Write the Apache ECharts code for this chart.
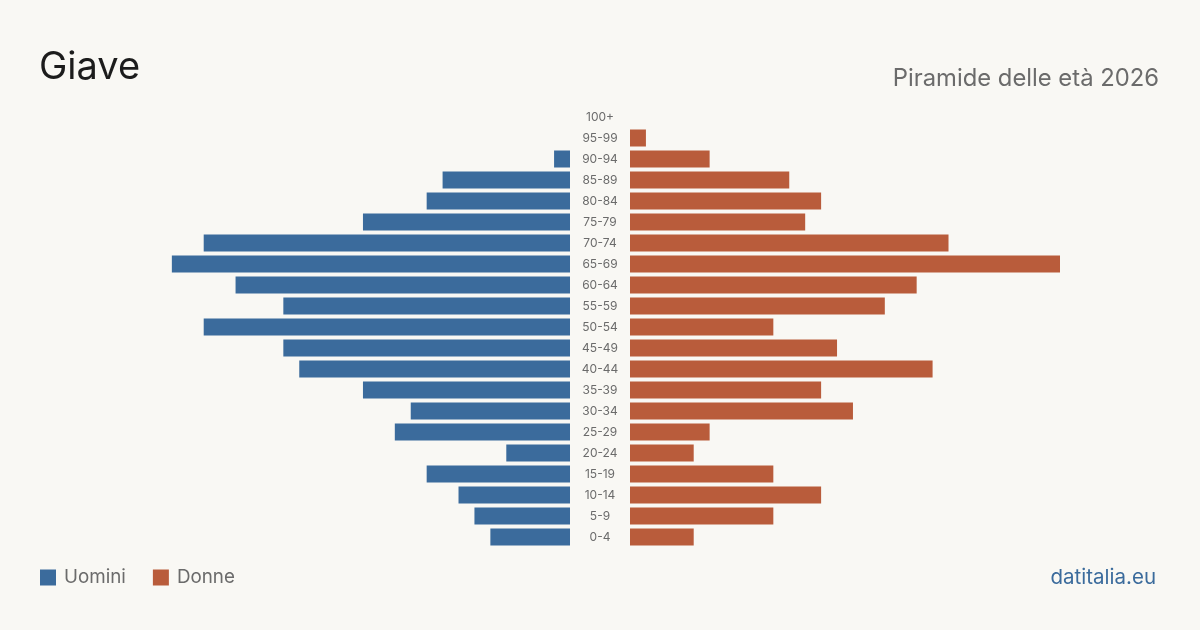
<!DOCTYPE html>
<html>
<head>
<meta charset="utf-8">
<script src="https://cdn.jsdelivr.net/npm/echarts@6/dist/echarts.min.js"></script>
<style>
  html, body { margin: 0; padding: 0; background: #f9f8f4; }
  #chart { width: 1200px; height: 630px; }
</style>
</head>
<body>
<div id="chart"></div>
<script>
// age classes, top to bottom
const ageGroups = ['100+', '95-99', '90-94', '85-89', '80-84', '75-79', '70-74', '65-69', '60-64', '55-59',
  '50-54', '45-49', '40-44', '35-39', '30-34', '25-29', '20-24', '15-19', '10-14', '5-9', '0-4'];
const men   = [0, 0, 1, 8, 9, 13, 23, 25, 21, 18, 23, 18, 17, 13, 10, 11, 4, 9, 7, 6, 5];
const women = [0, 1, 5, 10, 12, 11, 20, 27, 18, 16, 9, 13, 19, 12, 14, 5, 4, 9, 12, 9, 4];
const axisMax = 27;

const BLUE = '#3b6b9c';
const ORANGE = '#b95c3b';
const font = 'Inter, "Liberation Sans", sans-serif';

const chart = echarts.init(document.getElementById('chart'));

chart.setOption({
  backgroundColor: '#f9f8f4',
  animation: false,
  textStyle: { fontFamily: font },
  title: [
    { text: 'Giave', left: 34, top: 44, textStyle: { fontSize: 38, fontWeight: 'normal', color: '#1c1c1c', fontFamily: font } },
    { text: 'Piramide delle età 2026', right: 36, top: 62, textStyle: { fontSize: 23.8, fontWeight: 'normal', color: '#6b6b6b', fontFamily: font } },
    { text: 'datitalia.eu', right: 39, top: 562, textStyle: { fontSize: 20.5, fontWeight: 'normal', color: BLUE, fontFamily: font } }
  ],
  legend: {
    left: 35, top: 563, itemWidth: 16, itemHeight: 16, itemGap: 27, icon: 'rect',
    textStyle: { fontSize: 18.8, color: '#6b6b6b', fontFamily: font, padding: [0, 0, 0, 3] },
    data: ['Uomini', 'Donne']
  },
  grid: [
    { left: 140, right: 630, top: 106.5, bottom: 82.5 },
    { left: 630, right: 140, top: 106.5, bottom: 82.5 }
  ],
  xAxis: [
    { type: 'value', gridIndex: 0, inverse: true, min: 0, max: axisMax, show: false },
    { type: 'value', gridIndex: 1, min: 0, max: axisMax, show: false }
  ],
  yAxis: [
    {
      type: 'category', gridIndex: 0, data: ageGroups, inverse: true, position: 'right',
      axisLine: { show: false }, axisTick: { show: false },
      axisLabel: { align: 'center', margin: 30, fontSize: 12, color: '#6b6b6b', fontFamily: font }
    },
    {
      type: 'category', gridIndex: 1, data: ageGroups, inverse: true, show: false
    }
  ],
  series: [
    {
      name: 'Uomini', type: 'bar', xAxisIndex: 0, yAxisIndex: 0, data: men,
      barWidth: 17, itemStyle: { color: BLUE }
    },
    {
      name: 'Donne', type: 'bar', xAxisIndex: 1, yAxisIndex: 1, data: women,
      barWidth: 17, itemStyle: { color: ORANGE }
    }
  ]
});
</script>
</body>
</html>
